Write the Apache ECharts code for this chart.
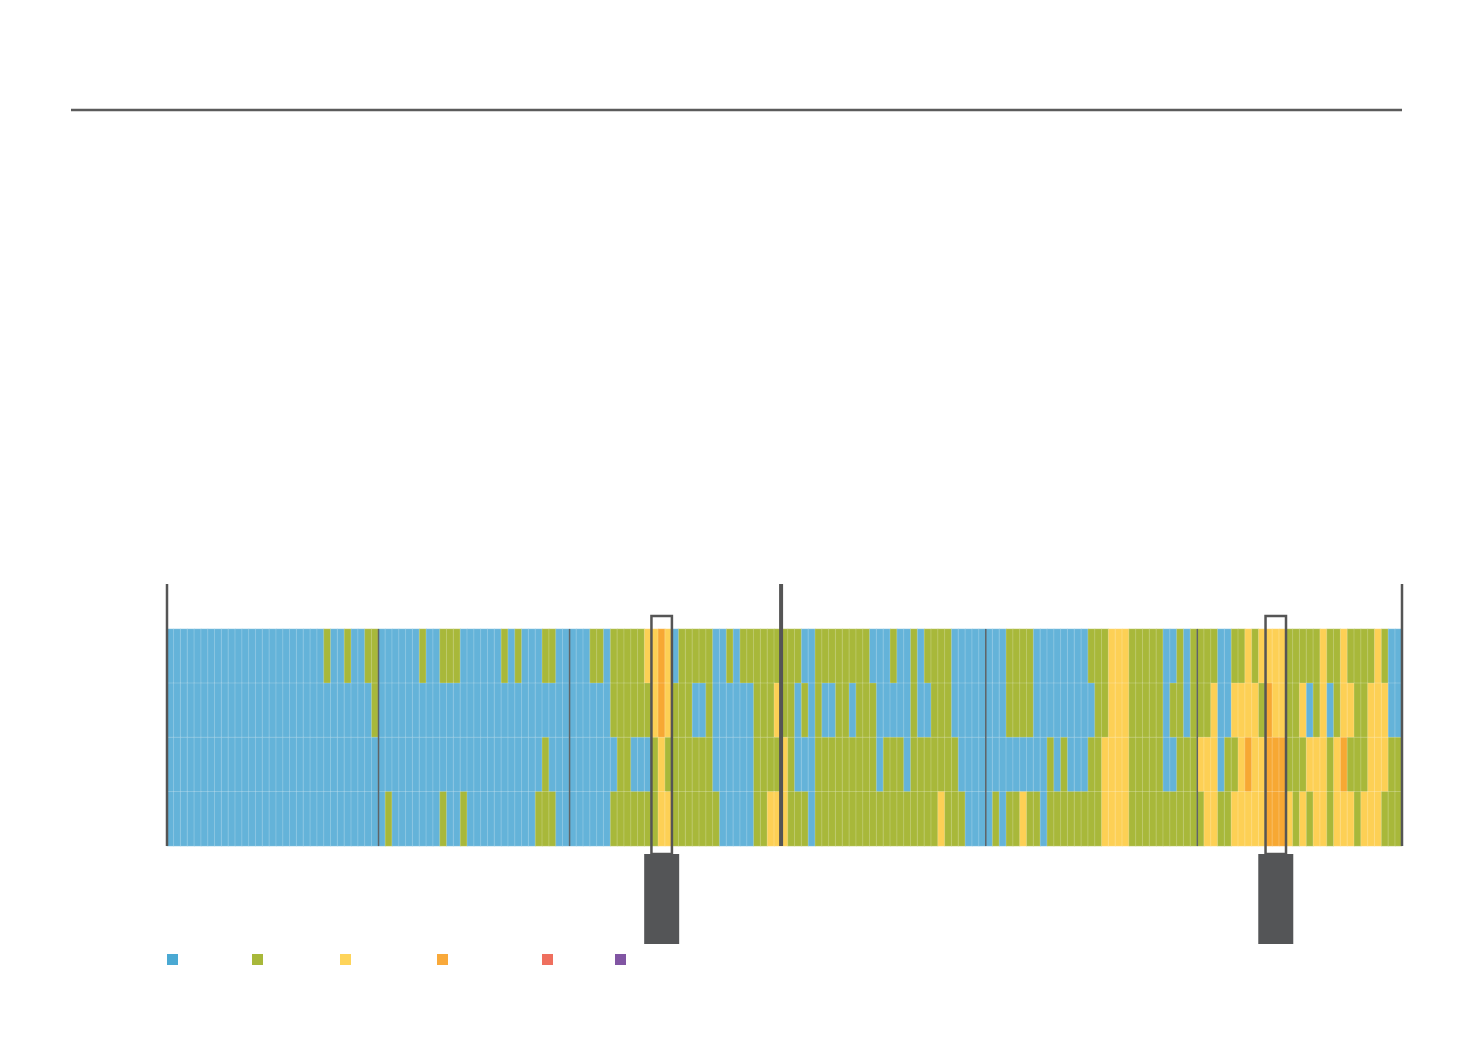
<!DOCTYPE html>
<html>
<head>
<meta charset="utf-8">
<title>Daily levels, Jan-Jun</title>
<script src="https://cdn.jsdelivr.net/npm/echarts@6/dist/echarts.min.js"></script>
<style>
  html, body { margin: 0; padding: 0; background: #fff; }
  #chart { width: 1472px; height: 1038px; }
</style>
</head>
<body>
<div id="chart"></div>
<script>
// one value per day (Jan 1 .. Jun 30), level 0..5
var rowNames = ['row1', 'row2', 'row3', 'row4'];

var row1 = [
  0,0,0,0,0,0,0,0,0,0, 0,0,0,0,0,0,0,0,0,0, 0,0,0,1,0,0,1,0,0,1,
  1,0,0,0,0,0,0,1,0,0, 1,1,1,0,0,0,0,0,0,1, 0,1,0,0,0,1,1,0,0,0,
  0,0,1,1,0,1,1,1,1,1, 2,2,3,2,0,1,1,1,1,1, 0,0,1,0,1,1,1,1,1,1,
  1,1,1,0,0,1,1,1,1,1, 1,1,1,0,0,0,1,0,0,1, 0,1,1,1,1,0,0,0,0,0,
  0,0,0,1,1,1,1,0,0,0, 0,0,0,0,0,1,1,1,2,2, 2,1,1,1,1,1,0,0,1,0,
  1,1,1,1,0,0,1,1,2,1, 2,2,2,2,1,1,1,1,1,2, 1,1,2,1,1,1,1,2,1,0,
  0
];
var row2 = [
  0,0,0,0,0,0,0,0,0,0, 0,0,0,0,0,0,0,0,0,0, 0,0,0,0,0,0,0,0,0,0,
  1,0,0,0,0,0,0,0,0,0, 0,0,0,0,0,0,0,0,0,0, 0,0,0,0,0,0,0,0,0,0,
  0,0,0,0,0,1,1,1,1,1, 1,2,3,2,1,1,1,0,0,1, 0,0,0,0,0,0,1,1,1,2,
  1,1,0,1,0,1,0,0,1,1, 0,1,1,1,0,0,0,0,0,1, 0,0,1,1,1,0,0,0,0,0,
  0,0,0,1,1,1,1,0,0,0, 0,0,0,0,0,0,1,1,2,2, 2,1,1,1,1,1,0,1,1,0,
  1,1,1,2,0,0,2,2,2,2, 1,3,2,2,1,1,2,0,1,2, 0,1,2,2,1,1,2,2,2,0,
  0
];
var row3 = [
  0,0,0,0,0,0,0,0,0,0, 0,0,0,0,0,0,0,0,0,0, 0,0,0,0,0,0,0,0,0,0,
  0,0,0,0,0,0,0,0,0,0, 0,0,0,0,0,0,0,0,0,0, 0,0,0,0,0,1,0,0,0,0,
  0,0,0,0,0,0,1,1,0,0, 0,1,2,1,1,1,1,1,1,1, 0,0,0,0,0,0,1,1,1,1,
  2,1,0,0,0,1,1,1,1,1, 1,1,1,1,0,1,1,1,0,1, 1,1,1,1,1,1,0,0,0,0,
  0,0,0,0,0,0,0,0,0,1, 0,1,0,0,0,1,1,2,2,2, 2,1,1,1,1,1,0,0,1,1,
  1,2,2,2,0,1,1,2,3,2, 2,3,3,3,1,1,1,2,2,2, 1,2,3,1,1,1,2,2,2,1,
  1
];
var row4 = [
  0,0,0,0,0,0,0,0,0,0, 0,0,0,0,0,0,0,0,0,0, 0,0,0,0,0,0,0,0,0,0,
  0,0,1,0,0,0,0,0,0,0, 1,0,0,1,0,0,0,0,0,0, 0,0,0,0,1,1,1,0,0,0,
  0,0,0,0,0,1,1,1,1,1, 1,1,2,2,1,1,1,1,1,1, 1,0,0,0,0,0,1,1,2,2,
  2,1,1,1,0,1,1,1,1,1, 1,1,1,1,1,1,1,1,1,1, 1,1,1,2,1,1,1,0,0,0,
  0,1,0,1,1,2,1,1,0,1, 1,1,1,1,1,1,1,2,2,2, 2,1,1,1,1,1,1,1,1,1,
  1,1,2,2,1,1,2,2,2,2, 2,3,3,3,2,1,2,1,2,2, 1,2,2,2,1,2,2,2,1,1,
  1
];

// month starts (day index) and highlighted day ranges
var dividers = [[0, 'edge'], [31, 'month'], [59, 'month'], [90, 'quarter'], [120, 'month'], [151, 'month'], [181, 'edge']];
var highlights = [[71, 74], [161, 164]];

var levelColors = ['#64b3d9', '#a8b83a', '#fdd055', '#f7a833', '#ef6f5e', '#8155a3'];
var legendColors = ['#4aa9d3', '#a8b83a', '#fed45a', '#f9a93a', '#ef6f5e', '#8155a3'];
var legendX = [167, 252, 340, 437, 542, 615];

var days = [];
for (var i = 0; i < row1.length; i++) {
  var d = new Date(2016, 0, 1 + i);
  days.push((d.getMonth() + 1) + '/' + d.getDate());
}

var rows = [row1, row2, row3, row4];
var cells = [];
rows.forEach(function (r, ri) {
  r.forEach(function (v, di) {
    cells.push([di, ri, v]);
  });
});

var chart = echarts.init(document.getElementById('chart'));

var option = {
  animation: false,
  backgroundColor: '#fff',
  grid: { left: 167, right: 70, top: 629, bottom: 192 },
  xAxis: [
    { type: 'category', data: days, show: false },
    { type: 'value', min: 0, max: days.length, show: false }
  ],
  yAxis: [
    { type: 'category', data: rowNames, inverse: true, show: false },
    { type: 'value', min: 0, max: rowNames.length, inverse: true, show: false }
  ],
  visualMap: {
    type: 'piecewise',
    show: false,
    dimension: 2,
    seriesIndex: 0,
    pieces: levelColors.map(function (c, k) { return { value: k, color: c }; })
  },
  series: [
    {
      type: 'heatmap',
      data: cells,
      itemStyle: { borderColor: 'rgba(255,255,255,0.35)', borderWidth: 0.6 },
      emphasis: { disabled: true }
    },
    {
      type: 'custom',
      xAxisIndex: 1,
      yAxisIndex: 1,
      silent: true,
      data: dividers.map(function (d) { return [d[0], d[1]]; }),
      renderItem: function (params, api) {
        var kind = dividers[params.dataIndex][1];
        var x = api.coord([api.value(0), 0])[0];
        var top = api.coord([0, 0])[1];
        var bottom = api.coord([0, rowNames.length])[1];
        var w = kind === 'quarter' ? 4 : (kind === 'edge' ? 2.5 : 1.5);
        var y0 = kind === 'month' ? top : top - 45;
        return {
          type: 'line',
          shape: { x1: x, y1: y0, x2: x, y2: bottom },
          style: { stroke: kind === 'month' ? '#5f6366' : '#555555', lineWidth: w }
        };
      }
    },
    {
      type: 'custom',
      xAxisIndex: 1,
      yAxisIndex: 1,
      silent: true,
      data: highlights,
      renderItem: function (params, api) {
        var x0 = api.coord([api.value(0), 0])[0];
        var x1 = api.coord([api.value(1), 0])[0];
        var top = api.coord([0, 0])[1];
        var bottom = api.coord([0, rowNames.length])[1];
        var cx = (x0 + x1) / 2;
        return {
          type: 'group',
          children: [
            {
              type: 'rect',
              shape: { x: x0, y: top - 13, width: x1 - x0, height: bottom - top + 21 },
              style: { fill: 'none', stroke: '#555555', lineWidth: 2.5 }
            },
            {
              type: 'rect',
              shape: { x: cx - 17.5, y: bottom + 8, width: 35, height: 90 },
              style: { fill: '#545557' }
            }
          ]
        };
      }
    }
  ],
  graphic: [
    {
      type: 'line',
      shape: { x1: 71, y1: 110, x2: 1402, y2: 110 },
      style: { stroke: '#5b5b5b', lineWidth: 2.5 }
    }
  ].concat(legendColors.map(function (c, k) {
    return {
      type: 'rect',
      shape: { x: legendX[k], y: 954, width: 11, height: 11 },
      style: { fill: c }
    };
  }))
};

chart.setOption(option);
</script>
</body>
</html>
